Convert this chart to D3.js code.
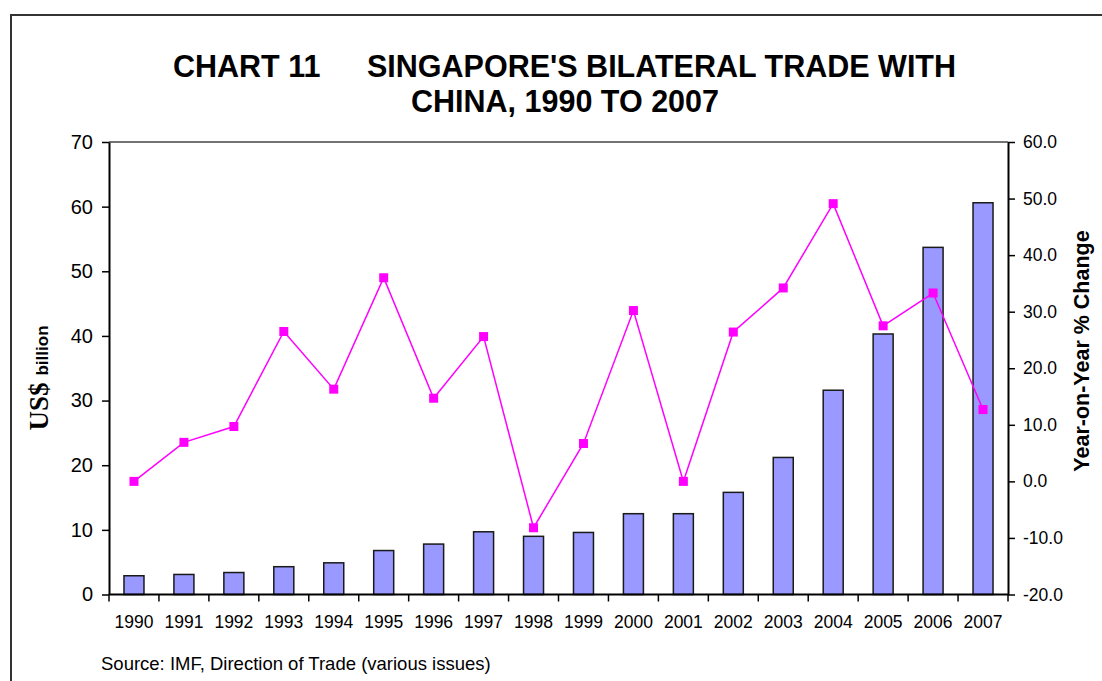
<!DOCTYPE html>
<html>
<head>
<meta charset="utf-8">
<script src="https://cdn.jsdelivr.net/npm/d3@7"></script>
<style>
  body { margin: 0; background: #fff; }
  text { font-family: "Liberation Sans", Arial, sans-serif; }
</style>
</head>
<body>
<svg width="1102" height="681"></svg>
<script>
// data
var years = ["1990","1991","1992","1993","1994","1995","1996","1997","1998",
             "1999","2000","2001","2002","2003","2004","2005","2006","2007"];
var tradeValue = [2.9, 3.1, 3.4, 4.3, 4.9, 6.8, 7.8, 9.7, 9.0,
                  9.6, 12.5, 12.5, 15.8, 21.2, 31.6, 40.3, 53.7, 60.6];
var yoyChange = [0.0, 6.9, 9.7, 26.5, 16.3, 36.0, 14.7, 25.6, -8.2,
                 6.7, 30.2, 0.0, 26.4, 34.2, 49.1, 27.5, 33.3, 12.7];
var leftTicks = [0, 10, 20, 30, 40, 50, 60, 70];
var rightTicks = [-20, -10, 0, 10, 20, 30, 40, 50, 60];

var svg = d3.select('svg');

var plotLeft = 109, plotRight = 1008, plotTop = 142, plotBottom = 594.5;

var band = d3.scaleBand().domain(years).range([plotLeft, plotRight]);
var yL = d3.scaleLinear().domain([0, 70]).range([plotBottom, plotTop]);
var yR = d3.scaleLinear().domain([-20, 60]).range([plotBottom, plotTop]);
var mid = function(i){ return band(years[i]) + band.bandwidth()/2; };

// outer frame
svg.append('rect')
    .attr('x', 11).attr('y', 15)
    .attr('width', 1200).attr('height', 800)
    .attr('fill', 'none')
    .attr('stroke', '#333')
    .attr('stroke-width', 2);

// title
var title = svg.append('g').attr('font-weight', 'bold').attr('font-size', 30.5).attr('fill', '#000');
title.append('text').attr('x', 173).attr('y', 77).text('CHART 11');
title.append('text').attr('x', 367).attr('y', 77).text("SINGAPORE'S BILATERAL TRADE WITH");
title.append('text').attr('x', 565).attr('y', 112).attr('text-anchor', 'middle').text('CHINA, 1990 TO 2007');

// plot top border
svg.append('line')
    .attr('x1', plotLeft).attr('x2', plotRight)
    .attr('y1', plotTop).attr('y2', plotTop)
    .attr('stroke', '#444').attr('stroke-width', 1.5);

// bars
svg.append('g').selectAll('rect')
    .data(tradeValue)
    .enter()
    .append('rect')
    .attr('x', function(d, i){ return mid(i) - 10; })
    .attr('width', 20)
    .attr('y', function(d){ return yL(d); })
    .attr('height', function(d){ return plotBottom - yL(d); })
    .attr('fill', '#9999ff')
    .attr('stroke', '#1a1a1a')
    .attr('stroke-width', 1.5);

// line
var line = d3.line()
    .x(function(d, i){ return mid(i); })
    .y(function(d){ return yR(d); });

svg.append('path')
    .datum(yoyChange)
    .attr('d', line)
    .attr('fill', 'none')
    .attr('stroke', '#ff00ff')
    .attr('stroke-width', 1.5);

svg.append('g').selectAll('rect')
    .data(yoyChange)
    .enter()
    .append('rect')
    .attr('x', function(d, i){ return mid(i) - 4.5; })
    .attr('y', function(d){ return yR(d) - 4.5; })
    .attr('width', 9).attr('height', 9)
    .attr('fill', '#ff00ff');

// left axis
var axL = svg.append('g')
    .attr('transform', 'translate(' + plotLeft + ',0)')
    .call(d3.axisLeft(yL).tickValues(leftTicks).tickSize(7).tickPadding(9).tickSizeOuter(0));
axL.select('.domain').attr('stroke', '#000').attr('stroke-width', 2);
axL.selectAll('.tick line').attr('stroke', '#000').attr('stroke-width', 1.5);
axL.selectAll('text').attr('font-size', 20).attr('fill', '#000')
    .style('font-family', '"Liberation Sans", Arial, sans-serif');

// right axis (plain hyphen for negatives, like the original)
var axR = svg.append('g')
    .attr('transform', 'translate(' + plotRight + ',0)')
    .call(d3.axisRight(yR).tickValues(rightTicks).tickSize(7).tickPadding(8).tickSizeOuter(0)
        .tickFormat(function(d){ return d.toFixed(1); }));
axR.select('.domain').attr('stroke', '#000').attr('stroke-width', 2);
axR.selectAll('.tick line').attr('stroke', '#000').attr('stroke-width', 1.5);
axR.selectAll('text').attr('font-size', 17.5).attr('fill', '#000')
    .style('font-family', '"Liberation Sans", Arial, sans-serif');

// x axis
var axB = svg.append('g')
    .attr('transform', 'translate(0,' + plotBottom + ')')
    .call(d3.axisBottom(band).tickSize(0).tickPadding(21));
axB.select('.domain').remove();
axB.selectAll('text').attr('font-size', 17.5).attr('fill', '#000')
    .style('font-family', '"Liberation Sans", Arial, sans-serif');

svg.append('line')
    .attr('x1', plotLeft).attr('x2', plotRight)
    .attr('y1', plotBottom).attr('y2', plotBottom)
    .attr('stroke', '#000').attr('stroke-width', 2);

var edges = years.map(function(y){ return band(y); }).concat([plotRight]);
svg.append('g').selectAll('line')
    .data(edges)
    .enter()
    .append('line')
    .attr('x1', function(d){ return d; }).attr('x2', function(d){ return d; })
    .attr('y1', plotBottom).attr('y2', plotBottom + 7)
    .attr('stroke', '#000').attr('stroke-width', 1.5);

// axis titles
var yTitle = svg.append('text')
    .attr('transform', 'translate(48,378) rotate(-90)')
    .attr('text-anchor', 'middle')
    .attr('font-weight', 'bold');
yTitle.append('tspan')
    .style('font-family', '"Liberation Serif", "Times New Roman", serif')
    .attr('font-size', 27)
    .text('US$');
yTitle.append('tspan')
    .attr('font-size', 17)
    .attr('dx', 7)
    .text('billion');

svg.append('text')
    .attr('transform', 'translate(1089,351) rotate(-90)')
    .attr('text-anchor', 'middle')
    .attr('font-weight', 'bold')
    .attr('font-size', 21.5)
    .text('Year-on-Year % Change');

// source
svg.append('text')
    .attr('x', 101).attr('y', 670)
    .attr('font-size', 18.5)
    .text('Source: IMF, Direction of Trade (various issues)');
</script>
</body>
</html>
